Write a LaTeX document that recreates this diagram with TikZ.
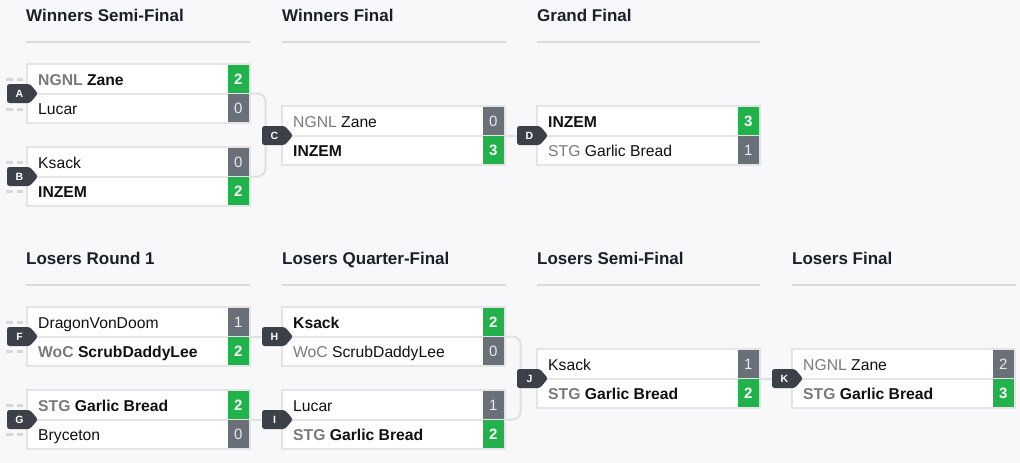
\documentclass[tikz,border=0pt]{standalone}
\usepackage{fontspec}
\setmainfont{Liberation Sans}
\usetikzlibrary{calc}
\definecolor{bgcol}{HTML}{F8F8FA}
\definecolor{framecol}{HTML}{E4E4E7}
\definecolor{conncol}{HTML}{E0E0E3}
\definecolor{hlinecol}{HTML}{DADADF}
\definecolor{headcol}{HTML}{1A1F29}
\definecolor{wincol}{HTML}{22B24C}
\definecolor{losecol}{HTML}{6A7078}
\definecolor{badgecol}{HTML}{3B4049}
\definecolor{tagcol}{HTML}{7A7A7A}
\definecolor{namecol}{HTML}{111111}
\definecolor{dashcol}{HTML}{D8D8DC}
\pgfdeclarelayer{back}
\pgfdeclarelayer{links}
\pgfsetlayers{back,links,main}
\newcommand{\tg}[1]{\textcolor{tagcol}{#1}}
\newcommand{\matchbox}[9]{%
 \node[frame, anchor=north west] (#1) at (#2,#3) {};
 \draw[divider] (#1.west) -- (#1.east);
 \node[team] (#1-t1) at ($(#1.north west)+(11,21)$) {#4};
 \node[team] (#1-t2) at ($(#1.north west)+(11,50.5)$) {#7};
 \node[#6, anchor=north east] (#1-s1) at ($(#1.north east)+(-1,1)$) {#5};
 \node[#9, anchor=south east] (#1-s2) at ($(#1.south east)+(-1,-1)$) {#8};
}
\newcommand{\badge}[4]{%
 \fill[badgecol, rounded corners=2.5pt] (#2+23,#3-9.5) -- (#2,#3-9.5) -- (#2,#3+9.5) -- (#2+23,#3+9.5) -- (#2+31,#3) -- cycle;
 \node[badgetext] (#1) at (#2+12.5,#3) {#4};
}
\begin{document}
\begin{tikzpicture}[x=1pt,y=-1pt,
 frame/.style={draw=framecol, fill=white, line width=2pt, minimum width=223pt, minimum height=59pt, inner sep=0pt, outer sep=0pt},
 divider/.style={draw=framecol, line width=2pt},
 team/.style={anchor=base west, inner sep=0pt, text=namecol, font=\fontsize{15.7}{18}\selectfont},
 wscore/.style={fill=wincol, text=white, minimum width=21pt, minimum height=27.5pt, inner sep=0pt, font=\fontsize{15}{15}\selectfont\bfseries},
 lscore/.style={fill=losecol, text=white!92!black, minimum width=21pt, minimum height=27.5pt, inner sep=0pt, font=\fontsize{15}{15}\selectfont},
 badgetext/.style={text=white, inner sep=0pt, font=\fontsize{10.5}{11}\selectfont\bfseries},
 head/.style={anchor=base west, inner sep=0pt, text=headcol, font=\fontsize{17}{20}\selectfont\bfseries},
 hline/.style={draw=hlinecol, line width=1.2pt},
 conn/.style={draw=conncol, line width=2pt},
 stub/.style={draw=dashcol, line width=3pt}
]
\begin{pgfonlayer}{back}
\fill[bgcol] (0,0) rectangle (1020,463);
\end{pgfonlayer}
\useasboundingbox (0,0) rectangle (1020,463);

% headers
\node[head] (h1) at (26,21) {Winners Semi-Final};
\node[head] (h2) at (282,21) {Winners Final};
\node[head] (h3) at (537,21) {Grand Final};
\node[head] (h4) at (26,264) {Losers Round 1};
\node[head] (h5) at (282,264) {Losers Quarter-Final};
\node[head] (h6) at (537,264) {Losers Semi-Final};
\node[head] (h7) at (792,264) {Losers Final};
\draw[hline] (26,42) -- (250,42);
\draw[hline] (282,42) -- (506,42);
\draw[hline] (537,42) -- (760,42);
\draw[hline] (26,285) -- (250,285);
\draw[hline] (282,285) -- (506,285);
\draw[hline] (537,285) -- (760,285);
\draw[hline] (792,285) -- (1016,285);

% stubs
\foreach \yy in {79,109,162,191,322,351,405,434} {
 \draw[stub] (6,\yy) -- (13,\yy);
 \draw[stub] (17,\yy) -- (23,\yy);
}

% matches
\matchbox{mA}{27}{64}{\textbf{\tg{NGNL} Zane}}{2}{wscore}{Lucar}{0}{lscore}
\matchbox{mB}{27}{147}{Ksack}{0}{lscore}{\textbf{INZEM}}{2}{wscore}
\matchbox{mC}{282}{106}{\tg{NGNL} Zane}{0}{lscore}{\textbf{INZEM}}{3}{wscore}
\matchbox{mD}{537}{106}{\textbf{INZEM}}{3}{wscore}{\tg{STG} Garlic Bread}{1}{lscore}
\matchbox{mF}{27}{307}{DragonVonDoom}{1}{lscore}{\textbf{\tg{WoC} ScrubDaddyLee}}{2}{wscore}
\matchbox{mG}{27}{390}{\textbf{\tg{STG} Garlic Bread}}{2}{wscore}{Bryceton}{0}{lscore}
\matchbox{mH}{282}{307}{\textbf{Ksack}}{2}{wscore}{\tg{WoC} ScrubDaddyLee}{0}{lscore}
\matchbox{mI}{282}{390}{Lucar}{1}{lscore}{\textbf{\tg{STG} Garlic Bread}}{2}{wscore}
\matchbox{mJ}{537}{349}{Ksack}{1}{lscore}{\textbf{\tg{STG} Garlic Bread}}{2}{wscore}
\matchbox{mK}{792}{349}{\tg{NGNL} Zane}{2}{lscore}{\textbf{\tg{STG} Garlic Bread}}{3}{wscore}

% badges
\badge{bA}{7}{93.5}{A}
\badge{bB}{7}{176.5}{B}
\badge{bC}{262}{135.5}{C}
\badge{bD}{517}{135.5}{D}
\badge{bF}{7}{336.5}{F}
\badge{bG}{7}{419.5}{G}
\badge{bH}{262}{336.5}{H}
\badge{bI}{262}{419.5}{I}
\badge{bJ}{517}{378.5}{J}
\badge{bK}{772}{378.5}{K}

% connectors
\begin{pgfonlayer}{links}
\draw[conn, rounded corners=8pt] (mA.east) -- ++(15.5,0) |- (mB.east);
\draw[conn] (mC.east) -- (bD);
\draw[conn] (mF.east) -- (bH);
\draw[conn] (mG.east) -- (bI);
\draw[conn, rounded corners=8pt] (mH.east) -- ++(15.5,0) |- (mI.east);
\draw[conn] (mJ.east) -- (bK);
\end{pgfonlayer}
\end{tikzpicture}
\end{document}
